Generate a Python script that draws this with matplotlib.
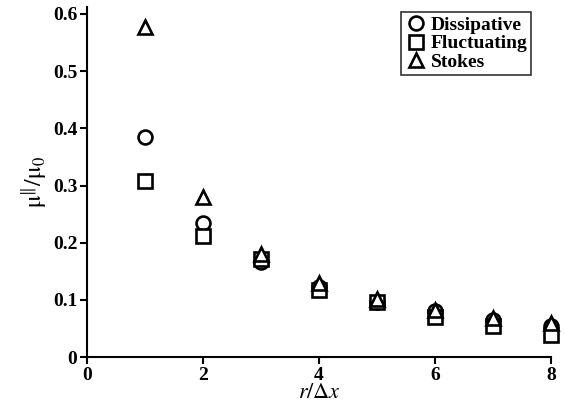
import numpy as np
from matplotlib import pyplot as plt

plt.rcParams['font.family'] = ['Liberation Serif', 'DejaVu Serif']
plt.rcParams['mathtext.fontset'] = 'stix'

r = [1, 2, 3, 4, 5, 6, 7, 8]
dissipative = [0.384, 0.235, 0.167, 0.122, 0.097, 0.080, 0.065, 0.055]
fluctuating = [0.308, 0.212, 0.172, 0.117, 0.097, 0.070, 0.054, 0.039]
stokes = [0.577, 0.280, 0.180, 0.130, 0.102, 0.083, 0.068, 0.060]

fig = plt.figure(figsize=(5.65, 4.11), dpi=100)
ax = fig.add_axes([0.154, 0.131, 0.821, 0.852])

kw = dict(linestyle='none', markerfacecolor='white', markeredgecolor='black',
          markeredgewidth=1.9, markersize=10, clip_on=False)
ax.plot(r, dissipative, marker='o', label='Dissipative', **kw)
ax.plot(r, fluctuating, marker='s', label='Fluctuating', **kw)
ax.plot(r, stokes, marker='^', label='Stokes', **kw)

ax.set_xlim(0, 8)
ax.set_ylim(0, 0.612)
ax.set_xticks([0, 2, 4, 6, 8])
ax.set_yticks([0, 0.1, 0.2, 0.3, 0.4, 0.5, 0.6])
ax.set_yticklabels(['0', '0.1', '0.2', '0.3', '0.4', '0.5', '0.6'])
ax.spines['top'].set_visible(False)
ax.spines['right'].set_visible(False)
for s in ['left', 'bottom']:
    ax.spines[s].set_linewidth(1.5)
ax.tick_params(direction='out', width=1.5, length=5, labelsize=14, pad=2)
for t in ax.get_xticklabels() + ax.get_yticklabels():
    t.set_fontweight('bold')

ax.set_xlabel(r'$r/\Delta x$', fontsize=16, labelpad=0)
ax.set_ylabel(r'$\mathrm{\mu}^{\Vert}/\mathrm{\mu}_0$', fontsize=17, labelpad=2)

leg = ax.legend(loc='upper right', bbox_to_anchor=(0.958, 0.985),
                prop={'size': 14, 'weight': 'bold'},
                frameon=True, fancybox=False, edgecolor='black',
                handletextpad=0.2, borderpad=0.2, labelspacing=0.05,
                handlelength=1.1, borderaxespad=0)
leg.get_frame().set_linewidth(1.2)

fig.savefig('out.png', dpi=100)
